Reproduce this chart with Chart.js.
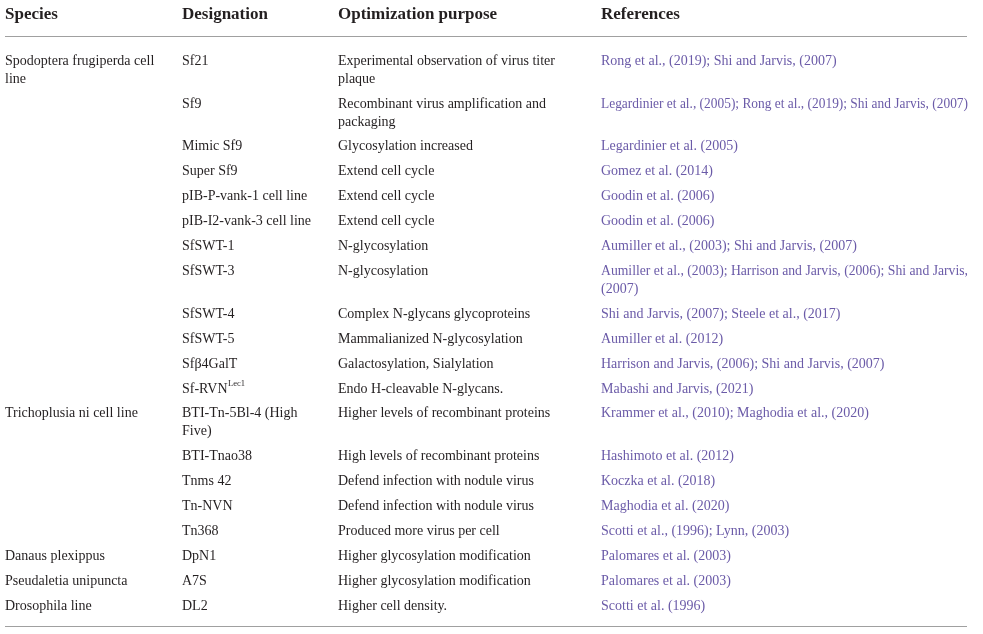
<!DOCTYPE html>
<html>
<head>
<meta charset="utf-8">
<script src="https://cdn.jsdelivr.net/npm/chart.js@4"></script>
<style>
html,body{margin:0;padding:0;background:#fff;}
#c{display:block;}
</style>
</head>
<body>
<canvas id="c" width="983" height="634"></canvas>
<script>
// ---- table data ----
const columns = ["Species", "Designation", "Optimization purpose", "References"];

const species = [
  "Spodoptera frugiperda cell\nline", "", "", "", "", "", "", "", "", "", "", "",
  "Trichoplusia ni cell line", "", "", "", "",
  "Danaus plexippus",
  "Pseudaletia unipuncta",
  "Drosophila line"
];

const designations = [
  "Sf21", "Sf9", "Mimic Sf9", "Super Sf9", "pIB-P-vank-1 cell line", "pIB-I2-vank-3 cell line",
  "SfSWT-1", "SfSWT-3", "SfSWT-4", "SfSWT-5", "Sf\u03B24GalT", "Sf-RVN^Lec1",
  "BTI-Tn-5Bl-4 (High\nFive)", "BTI-Tnao38", "Tnms 42", "Tn-NVN", "Tn368",
  "DpN1", "A7S", "DL2"
];

const purposes = [
  "Experimental observation of virus titer\nplaque",
  "Recombinant virus amplification and\npackaging",
  "Glycosylation increased",
  "Extend cell cycle",
  "Extend cell cycle",
  "Extend cell cycle",
  "N-glycosylation",
  "N-glycosylation",
  "Complex N-glycans glycoproteins",
  "Mammalianized N-glycosylation",
  "Galactosylation, Sialylation",
  "Endo H-cleavable N-glycans.",
  "Higher levels of recombinant proteins",
  "High levels of recombinant proteins",
  "Defend infection with nodule virus",
  "Defend infection with nodule virus",
  "Produced more virus per cell",
  "Higher glycosylation modification",
  "Higher glycosylation modification",
  "Higher cell density."
];

const references = [
  "Rong et al., (2019); Shi and Jarvis, (2007)",
  "Legardinier et al., (2005); Rong et al., (2019); Shi and Jarvis, (2007)",
  "Legardinier et al. (2005)",
  "Gomez et al. (2014)",
  "Goodin et al. (2006)",
  "Goodin et al. (2006)",
  "Aumiller et al., (2003); Shi and Jarvis, (2007)",
  "Aumiller et al., (2003); Harrison and Jarvis, (2006); Shi and Jarvis,\n(2007)",
  "Shi and Jarvis, (2007); Steele et al., (2017)",
  "Aumiller et al. (2012)",
  "Harrison and Jarvis, (2006); Shi and Jarvis, (2007)",
  "Mabashi and Jarvis, (2021)",
  "Krammer et al., (2010); Maghodia et al., (2020)",
  "Hashimoto et al. (2012)",
  "Koczka et al. (2018)",
  "Maghodia et al. (2020)",
  "Scotti et al., (1996); Lynn, (2003)",
  "Palomares et al. (2003)",
  "Palomares et al. (2003)",
  "Scotti et al. (1996)"
];

// ---- layout / style ----
const COL_X = [5, 182, 338, 601];
const COL_MAX_W = [170, 150, 255, 367];
const HEADER_Y = 15;
const FIRST_ROW_Y = 61;
const LINE_H = 18;
const ROW_GAP = 6.9;
const RULES_Y = [36, 626];
const RULE_X = [5, 967];
const TEXT_COLOR = "#231f20";
const REF_COLOR = "#6b5ba8";
const RULE_COLOR = "#a0a0a0";
const BODY_FONT = "14px 'Liberation Serif', 'Times New Roman', serif";
const SUP_FONT = "8.5px 'Liberation Serif', 'Times New Roman', serif";
const HEAD_FONT = "bold 17px 'Liberation Serif', 'Times New Roman', serif";

const tableCols = [species, designations, purposes, references];

// compute row positions (value units on y scale) from line counts
const rowLines = designations.map((_, i) =>
  Math.max(...tableCols.map(col => col[i].split("\n").length)));
const rowY = [];
let acc = FIRST_ROW_Y;
rowLines.forEach(n => { rowY.push(acc); acc += n * LINE_H + ROW_GAP; });

// points: one per cell (invisible), text drawn at them via scales
const cellPoints = [];
tableCols.forEach((col, c) => col.forEach((txt, r) => cellPoints.push({x: COL_X[c], y: rowY[r], c, r})));

function drawRich(ctx, text, x, y, maxW) {
  const parts = text.split("^");
  ctx.font = BODY_FONT;
  ctx.fillText(parts[0], x, y, maxW);
  if (parts.length > 1) {
    const w = ctx.measureText(parts[0]).width;
    ctx.font = SUP_FONT;
    ctx.fillText(parts[1], x + w + 0.5, y - 5);
    ctx.font = BODY_FONT;
  }
}

const tablePlugin = {
  id: "tableText",
  afterDatasetsDraw(chart) {
    const ctx = chart.ctx;
    const xs = chart.scales.x, ys = chart.scales.y;
    ctx.save();
    // rules
    ctx.strokeStyle = RULE_COLOR;
    ctx.lineWidth = 1.2;
    RULES_Y.forEach(v => {
      const py = Math.round(ys.getPixelForValue(v)) + 0.5;
      ctx.beginPath();
      ctx.moveTo(xs.getPixelForValue(RULE_X[0]), py);
      ctx.lineTo(xs.getPixelForValue(RULE_X[1]), py);
      ctx.stroke();
    });
    ctx.textBaseline = "middle";
    ctx.textAlign = "left";
    // header
    ctx.font = HEAD_FONT;
    ctx.fillStyle = TEXT_COLOR;
    columns.forEach((h, c) => ctx.fillText(h, xs.getPixelForValue(COL_X[c]), ys.getPixelForValue(HEADER_Y)));
    // body
    cellPoints.forEach(p => {
      const txt = tableCols[p.c][p.r];
      if (!txt) return;
      ctx.fillStyle = p.c === 3 ? REF_COLOR : TEXT_COLOR;
      txt.split("\n").forEach((ln, k) => {
        drawRich(ctx, ln, xs.getPixelForValue(p.x), ys.getPixelForValue(p.y + k * LINE_H), COL_MAX_W[p.c]);
      });
    });
    ctx.restore();
  }
};

new Chart(document.getElementById("c"), {
  type: "scatter",
  data: { datasets: [{ data: cellPoints, pointRadius: 0, pointHoverRadius: 0, showLine: false }] },
  options: {
    responsive: false,
    devicePixelRatio: 1,
    animation: false,
    events: [],
    layout: { padding: 0 },
    plugins: { legend: { display: false }, tooltip: { enabled: false }, title: { display: false } },
    scales: {
      x: { type: "linear", min: 0, max: 983, display: false },
      y: { type: "linear", min: 0, max: 634, reverse: true, display: false }
    }
  },
  plugins: [tablePlugin]
});
</script>
</body>
</html>
